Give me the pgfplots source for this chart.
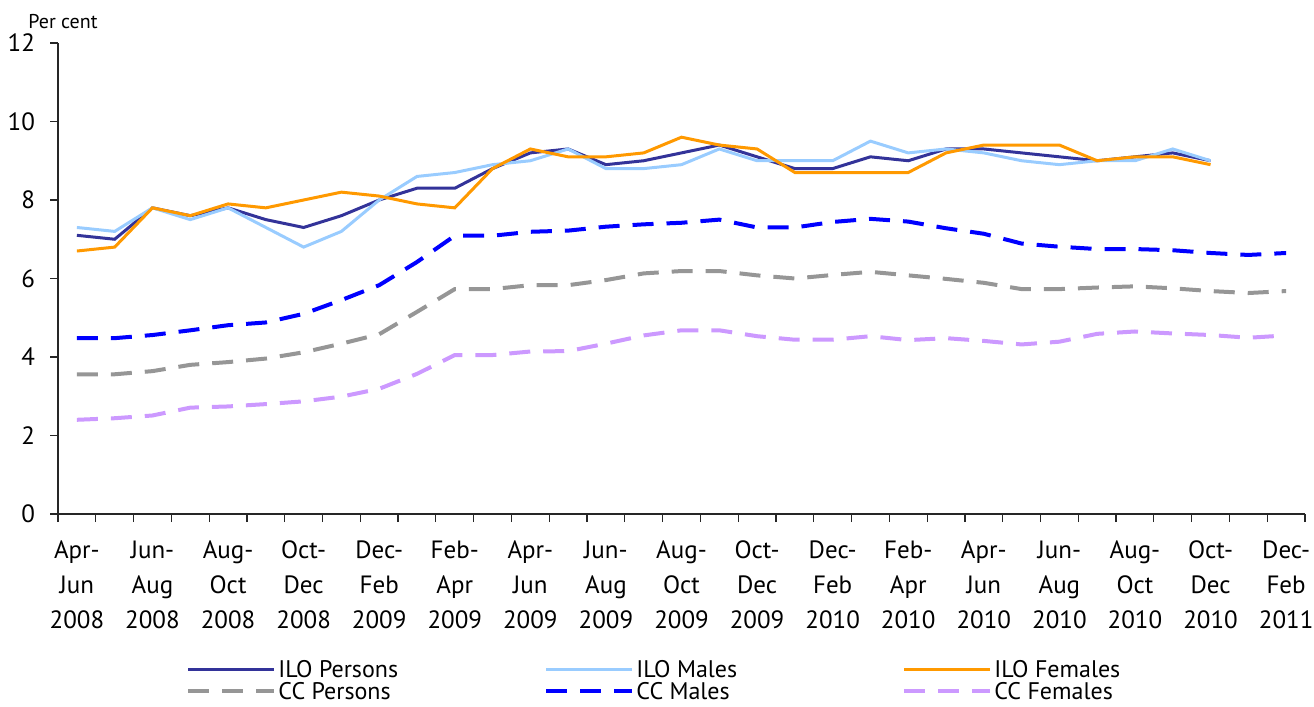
\documentclass[border=0pt]{standalone}
\usepackage{fontspec}
\setmainfont{PT Sans}
\usepackage{pgfplots}
\pgfplotsset{compat=1.18}
\usepackage{pgfplotstable}
\usetikzlibrary{calc}
\definecolor{navy}{HTML}{333399}
\definecolor{lblue}{HTML}{99CCFF}
\definecolor{orng}{HTML}{FF9900}
\definecolor{gry}{HTML}{969696}
\definecolor{bblue}{HTML}{0000FF}
\definecolor{lilac}{HTML}{CC99FF}
\pgfplotstableread{
i ilop ilom ilof ccp ccm ccf
0 7.1 7.3 6.7 3.56 4.48 2.40
1 7.0 7.2 6.8 3.56 4.48 2.44
2 7.8 7.8 7.8 3.64 4.56 2.51
3 7.6 7.5 7.6 3.80 4.68 2.71
4 7.8 7.8 7.9 3.87 4.81 2.74
5 7.5 7.3 7.8 3.96 4.88 2.80
6 7.3 6.8 8.0 4.12 5.10 2.87
7 7.6 7.2 8.2 4.34 5.45 2.99
8 8.0 8.0 8.1 4.58 5.83 3.19
9 8.3 8.6 7.9 5.15 6.42 3.57
10 8.3 8.7 7.8 5.73 7.09 4.05
11 8.8 8.9 8.8 5.73 7.09 4.05
12 9.2 9.0 9.3 5.83 7.19 4.14
13 9.3 9.3 9.1 5.83 7.22 4.15
14 8.9 8.8 9.1 5.96 7.32 4.34
15 9.0 8.8 9.2 6.13 7.38 4.55
16 9.2 8.9 9.6 6.19 7.42 4.68
17 9.4 9.3 9.4 6.19 7.50 4.68
18 9.1 9.0 9.3 6.08 7.30 4.53
19 8.8 9.0 8.7 6.00 7.30 4.44
20 8.8 9.0 8.7 6.09 7.44 4.44
21 9.1 9.5 8.7 6.17 7.52 4.53
22 9.0 9.2 8.7 6.08 7.45 4.43
23 9.3 9.3 9.2 5.99 7.28 4.48
24 9.3 9.2 9.4 5.89 7.14 4.41
25 9.2 9.0 9.4 5.73 6.89 4.32
26 9.1 8.9 9.4 5.73 6.81 4.39
27 9.0 9.0 9.0 5.77 6.75 4.59
28 9.1 9.0 9.1 5.80 6.75 4.65
29 9.2 9.3 9.1 5.75 6.72 4.60
30 9.0 9.0 8.9 5.68 6.65 4.56
31 nan nan nan 5.63 6.60 4.49
32 nan nan nan 5.68 6.65 4.55
}\data
\begin{document}
\begin{tikzpicture}
\begin{axis}[
  scale only axis, clip=false,
  width=623.5pt, height=235.5pt,
  xmin=-0.5, xmax=32.5, ymin=0, ymax=12,
  axis x line*=bottom, axis y line*=left,
  axis line style={-, black!85, line width=0.7pt},
  tick align=outside,
  major tick length=4pt,
  tick style={black!85, line width=0.6pt},
  ytick={0,2,4,6,8,10,12},
  yticklabel style={font=\fontsize{12.5}{12.5}\selectfont, xshift=-4pt},
  /pgf/number format/assume math mode=true,
  xtick={-0.5,0.5,...,32.5},
  xticklabels={},
  extra x ticks={0,2,4,6,8,10,12,14,16,18,20,22,24,26,28,30,32},
  extra x tick style={major tick length=0pt},
  extra x tick labels={{Apr-\\Jun\\2008},{Jun-\\Aug\\2008},{Aug-\\Oct\\2008},{Oct-\\Dec\\2008},{Dec-\\Feb\\2009},{Feb-\\Apr\\2009},{Apr-\\Jun\\2009},{Jun-\\Aug\\2009},{Aug-\\Oct\\2009},{Oct-\\Dec\\2009},{Dec-\\Feb\\2010},{Feb-\\Apr\\2010},{Apr-\\Jun\\2010},{Jun-\\Aug\\2010},{Aug-\\Oct\\2010},{Oct-\\Dec\\2010},{Dec-\\Feb\\2011}},
  xticklabel style={font=\fontsize{12.5}{17.5}\selectfont, align=center, yshift=-10pt},
  legend columns=3,
  legend cell align=left,
  legend image code/.code={\draw[#1] (0pt,0pt) -- (43pt,0pt);},
  legend style={draw=none, fill=none, at={(0,0)}, anchor=north west,
    xshift=64pt, yshift=-72.5pt, inner sep=0pt, row sep=1.2pt,
    font=\fontsize{12}{12}\selectfont,
    nodes={inner sep=1pt, text height=7.8pt, text depth=0pt}},
]
\addplot[navy, line width=1.5pt] table[x=i, y=ilop] {\data};
\addlegendentry{\makebox[132pt][l]{ILO Persons}}
\addplot[lblue, line width=1.5pt] table[x=i, y=ilom] {\data};
\addlegendentry{\makebox[132pt][l]{ILO Males}}
\addplot[orng, line width=1.5pt] table[x=i, y=ilof] {\data};
\addlegendentry{\makebox[132pt][l]{ILO Females}}
\addplot[gry, line width=2pt, dash pattern=on 10.5pt off 6.5pt] table[x=i, y=ccp] {\data};
\addlegendentry{\makebox[132pt][l]{CC Persons}}
\addplot[bblue, line width=2pt, dash pattern=on 10.5pt off 6.5pt] table[x=i, y=ccm] {\data};
\addlegendentry{\makebox[132pt][l]{CC Males}}
\addplot[lilac, line width=2pt, dash pattern=on 10.5pt off 6.5pt] table[x=i, y=ccf] {\data};
\addlegendentry{\makebox[132pt][l]{CC Females}}
\node[anchor=west, inner sep=0pt, font=\fontsize{10}{10}\selectfont] at (rel axis cs:0,1) [xshift=-15pt, yshift=10.5pt] {Per cent};
\end{axis}
\pgfresetboundingbox
\path ($(current axis.south west)+(-29pt,-96pt)$) rectangle ($(current axis.north east)+(4.5pt,21.5pt)$);
\end{tikzpicture}
\end{document}
